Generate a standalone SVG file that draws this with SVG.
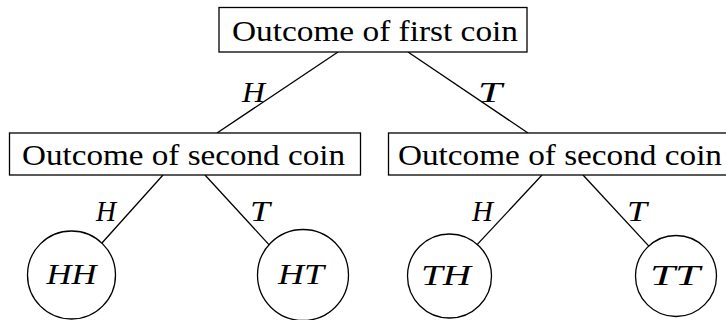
<svg xmlns="http://www.w3.org/2000/svg" width="726" height="320" viewBox="0 0 726 320" font-family="Liberation Serif, Times New Roman, Times, serif">
<style>
.box{fill:#fff;stroke:#000;stroke-width:1.3}
.leaf{fill:#fff;stroke:#000;stroke-width:1.3}
.edge{stroke:#000;stroke-width:1.3;fill:none}
.t{font-size:30px;fill:#000}
.m{font-size:30px;font-style:italic;fill:#000}
</style>
<rect width="726" height="320" fill="#fff"/>
<g id="connectors">
<line class="edge" x1="338" y1="52" x2="217" y2="133"/>
<line class="edge" x1="408" y1="52" x2="528" y2="133"/>
<line class="edge" x1="163" y1="175" x2="97.7" y2="247.8"/>
<line class="edge" x1="205" y1="175" x2="272.4" y2="248.4"/>
<line class="edge" x1="542" y1="175" x2="473.6" y2="248.4"/>
<line class="edge" x1="583" y1="175" x2="652.8" y2="250.4"/>
<text class="m" x="242" y="102" font-family="Liberation Serif, serif" textLength="23" lengthAdjust="spacingAndGlyphs">H</text>
<text class="m" x="478" y="102" font-family="Liberation Serif, serif" textLength="24" lengthAdjust="spacingAndGlyphs">T</text>
<text class="m" x="96" y="221" font-family="Liberation Serif, serif" textLength="20" lengthAdjust="spacingAndGlyphs">H</text>
<text class="m" x="250" y="221" font-family="Liberation Serif, serif" textLength="20" lengthAdjust="spacingAndGlyphs">T</text>
<text class="m" x="472" y="221" font-family="Liberation Serif, serif" textLength="21" lengthAdjust="spacingAndGlyphs">H</text>
<text class="m" x="627" y="221" font-family="Liberation Serif, serif" textLength="20" lengthAdjust="spacingAndGlyphs">T</text>
</g>
<g id="root">
<rect class="box" x="219" y="7.5" width="308" height="44.5"/>
<text class="t" x="232" y="41" font-family="Liberation Serif, serif" textLength="286" lengthAdjust="spacingAndGlyphs">Outcome of first coin</text>
</g>
<g id="second-h">
<rect class="box" x="9.5" y="133" width="351" height="42"/>
<text class="t" x="22" y="165" font-family="Liberation Serif, serif" textLength="323" lengthAdjust="spacingAndGlyphs">Outcome of second coin</text>
</g>
<g id="second-t">
<rect class="box" x="388.5" y="133" width="345" height="42"/>
<text class="t" x="398" y="165" font-family="Liberation Serif, serif" textLength="324" lengthAdjust="spacingAndGlyphs">Outcome of second coin</text>
</g>
<g id="leaf-hh">
<circle class="leaf" cx="71.5" cy="275" r="44"/>
<text class="m" x="71.5" y="284" font-family="Liberation Serif, serif" text-anchor="middle" textLength="50" lengthAdjust="spacingAndGlyphs">HH</text>
</g>
<g id="leaf-ht">
<circle class="leaf" cx="303" cy="275" r="45.5"/>
<text class="m" x="301" y="284" font-family="Liberation Serif, serif" text-anchor="middle" textLength="46" lengthAdjust="spacingAndGlyphs">HT</text>
</g>
<g id="leaf-th">
<circle class="leaf" cx="449.5" cy="276" r="42"/>
<text class="m" x="446" y="285" font-family="Liberation Serif, serif" text-anchor="middle" textLength="50" lengthAdjust="spacingAndGlyphs">TH</text>
</g>
<g id="leaf-tt">
<circle class="leaf" cx="676" cy="276" r="40.5"/>
<text class="m" x="675" y="285" font-family="Liberation Serif, serif" text-anchor="middle" textLength="50" lengthAdjust="spacingAndGlyphs">TT</text>
</g>
</svg>
